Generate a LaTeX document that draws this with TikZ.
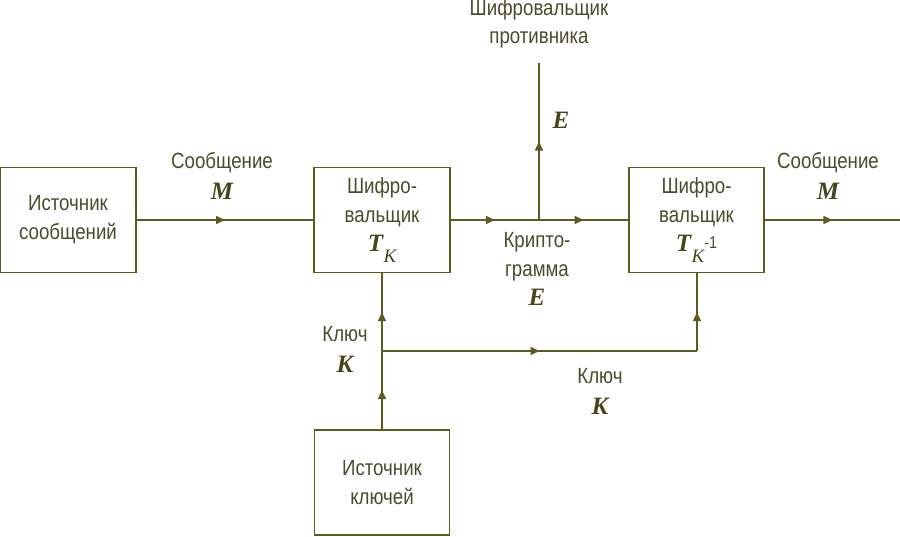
\documentclass[tikz,border=0pt]{standalone}
\usepackage{fontspec}
\setmainfont{Liberation Sans}[FakeStretch=0.85]
\newfontfamily\symfont{Liberation Serif}
\usetikzlibrary{arrows.meta,decorations.markings}
\definecolor{linecol}{RGB}{92,92,32}
\definecolor{textcol}{RGB}{74,74,44}
\definecolor{symcol}{RGB}{70,70,28}
\newcommand{\sym}[1]{{\symfont\bfseries\itshape\fontsize{25}{29}\selectfont\color{symcol}#1}}
\newcommand{\symsub}[1]{\kern0.5pt\raisebox{-11pt}{\symfont\itshape\fontsize{19}{19}\selectfont\color{symcol}#1}}
\tikzset{
  block/.style={draw=linecol, line width=1.7pt, minimum width=136pt, minimum height=105pt,
    align=center, text=textcol, inner sep=0pt, font=\fontsize{22}{29}\selectfont},
  lbl/.style={text=textcol, align=center, inner sep=0pt, font=\fontsize{22}{31}\selectfont},
  flow/.style={draw=linecol, line width=1.7pt, postaction={decorate},
    decoration={markings, mark=at position 0.5 with {\arrow[linecol]{Triangle[length=9pt,width=8pt]}}}}
}
\begin{document}
\begin{tikzpicture}[x=1pt,y=-1pt]
    \useasboundingbox (0,0) rectangle (900,536);
    % blocks
    \node[block] (src) at (68,220) {Источник\\сообщений};
    \node[block] (enc) at (382,220) {Шифро-\\вальщик\\\sym{T}\symsub{K}};
    \node[block, minimum width=135pt] (dec) at (696.5,220) {Шифро-\\вальщик\\\sym{T}\symsub{K}\raisebox{3pt}{\fontsize{17}{17}\selectfont -1}};
    \node[block, minimum width=135pt] (ksrc) at (382,482.5) {Источник\\ключей};
    % points on the lines
    \coordinate (tap) at (539,220);
    \coordinate (spy) at (539,63);
    \coordinate (out) at (900,220);
    \coordinate (ksplit) at (382,351);
    \coordinate (kcorner) at (697,351);
    % connectors
    \draw[flow] (src.east) -- (enc.west);
    \draw[flow] (enc.east) -- (tap);
    \draw[flow] (tap) -- (dec.west);
    \draw[flow] (tap) -- (spy);
    \draw[flow] (dec.east) -- (out);
    \draw[flow] (ksrc.north) -- (ksplit);
    \draw[flow] (ksplit) -- (enc.south);
    \draw[flow] (ksplit) -- (kcorner);
    \draw[flow] (kcorner) -- (kcorner |- dec.south);
    % labels
    \node[lbl] (msgin) at (222,176) {Сообщение\\\sym{M}};
    \node[lbl] (msgout) at (828,176) {Сообщение\\\sym{M}};
    \node[lbl, font=\fontsize{22}{28}\selectfont] (spylbl) at (539,24) {Шифровальщик\\противника};
    \node[lbl] (elbl) at (561,120) {\sym{E}};
    \node[lbl, font=\fontsize{22}{29}\selectfont] (crypt) at (537,269) {Крипто-\\грамма\\\sym{E}};
    \node[lbl] (keyl) at (345,349) {Ключ\\\sym{K}};
    \node[lbl] (keyr) at (600,391) {Ключ\\\sym{K}};
\end{tikzpicture}
\end{document}
